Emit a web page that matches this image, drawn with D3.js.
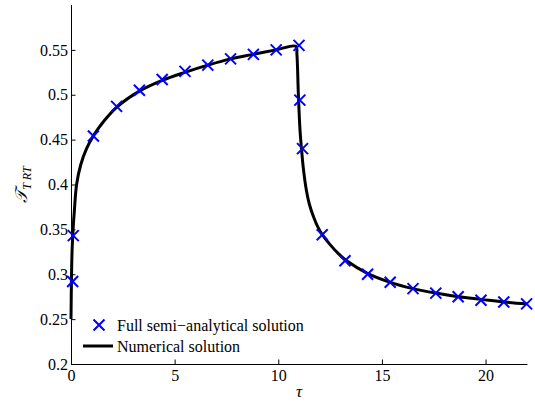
<!DOCTYPE html>
<html>
<head>
<meta charset="utf-8">
<script src="https://cdn.jsdelivr.net/npm/d3@7"></script>
</head>
<body style="margin:0">
<svg id="chart" width="535" height="402"></svg>
<script>
// Semi-analytical solution (sampled markers)
const semiT = [0.08, 0.11, 1.08, 2.2, 3.3, 4.4, 5.5, 6.6, 7.7, 8.8, 9.9, 11.0,
               11.04, 11.17, 12.12, 13.22, 14.31, 15.4, 16.5, 17.6, 18.68, 19.78, 20.88, 21.98];
const semiV = [0.292, 0.343, 0.454, 0.487, 0.505, 0.517, 0.526, 0.533, 0.540, 0.545, 0.550, 0.555,
               0.494, 0.440, 0.344, 0.315, 0.300, 0.291, 0.284, 0.279, 0.275, 0.271, 0.269, 0.267];

// Numerical solution (dense curve)
const numT = [0, 0.02, 0.05, 0.1, 0.16, 0.27, 0.47, 0.75, 1.1, 1.6, 2.2, 3.3, 4.4, 5.5, 6.6, 7.7, 8.8, 9.9, 10.85,
              10.9, 10.97, 11.05, 11.12, 11.2, 11.36, 11.5, 11.7, 11.9, 12.1, 12.5, 12.9, 13.3, 14.3, 15.4, 16.5,
              17.6, 18.7, 19.8, 20.9, 22];
const numV = [0.25, 0.29, 0.325, 0.35, 0.37, 0.40, 0.422, 0.44, 0.455, 0.471, 0.486, 0.504, 0.516, 0.525, 0.533,
              0.540, 0.545, 0.550, 0.554, 0.545, 0.50, 0.46, 0.44, 0.42, 0.393, 0.378, 0.364, 0.353, 0.345, 0.333,
              0.323, 0.315, 0.301, 0.291, 0.284, 0.279, 0.275, 0.272, 0.269, 0.267];

const xTicks = [0, 5, 10, 15, 20];
const yTicks = [0.2, 0.25, 0.3, 0.35, 0.4, 0.45, 0.5, 0.55];

const svg = d3.select("#chart");
const m = { left: 71, right: 527, top: 5, bottom: 364 };

const x = d3.scaleLinear().domain([0, 22]).range([m.left, m.right]);
const y = d3.scaleLinear().domain([0.2, 0.6]).range([m.bottom, m.top]);

// Axes with inward ticks, left and bottom only
const xAxis = d3.axisBottom(x).tickValues(xTicks).tickSizeInner(-4.5).tickSizeOuter(0).tickPadding(6)
  .tickFormat(d3.format("d"));
const yAxis = d3.axisLeft(y).tickValues(yTicks).tickSizeInner(-4.5).tickSizeOuter(0).tickPadding(3)
  .tickFormat(d => String(+d.toFixed(2)));

const gx = svg.append("g").attr("transform", `translate(0,${m.bottom})`).call(xAxis);
const gy = svg.append("g").attr("transform", `translate(${m.left},0)`).call(yAxis);
[gx, gy].forEach(g => {
  g.attr("font-family", null).attr("font-size", null);
  g.selectAll("text")
    .style("font-family", d => "\"Times New Roman\"")
    .style("font-size", "16px")
    .attr("fill", "#000");
  g.selectAll("path, line").attr("stroke", "#000").attr("stroke-width", 1);
});
gy.select(".domain").attr("d", `M0.5,${m.top}V${m.bottom}`);

// Numerical solution line
const line = d3.line().x((d, i) => x(numT[i])).y((d, i) => y(numV[i])).curve(d3.curveCatmullRom);
svg.append("path")
  .attr("d", line(numT))
  .attr("fill", "none")
  .attr("stroke", "#000")
  .attr("stroke-width", 3)
  .attr("stroke-linejoin", "round");

// Cross markers
const r = 5.5;
const cross = `M${-r},${-r}L${r},${r}M${-r},${r}L${r},${-r}`;
svg.append("g").selectAll("path")
  .data(semiT)
  .join("path")
  .attr("transform", (d, i) => `translate(${x(d)},${y(semiV[i])})`)
  .attr("d", cross)
  .attr("stroke", "#0000ff")
  .attr("stroke-width", 2)
  .attr("fill", "none");

// Axis labels
svg.append("text")
  .attr("x", (m.left + m.right) / 2)
  .attr("y", 397)
  .attr("text-anchor", "middle")
  .style("font-family", "\"Times New Roman\"")
  .style("font-size", "17px")
  .style("font-style", "italic")
  .text("τ");

const yl = svg.append("text")
  .attr("transform", `translate(27,${(m.top + m.bottom) / 2}) rotate(-90)`)
  .attr("text-anchor", "middle")
  .style("font-family", "\"Times New Roman\"")
  .style("font-size", "17px")
  .style("font-style", "italic");
yl.append("tspan").text("𝒯");
yl.append("tspan").attr("dy", 4).style("font-size", "12px").text("T RT");

// Legend
const lg = svg.append("g");
lg.append("path")
  .attr("transform", `translate(${99},${325})`)
  .attr("d", cross)
  .attr("stroke", "#0000ff").attr("stroke-width", 2).attr("fill", "none");
lg.append("text").attr("x", 117).attr("y", 331)
  .style("font-family", "\"Times New Roman\"").style("font-size", "16px")
  .text("Full semi\u2212analytical solution");
lg.append("line").attr("x1", 83).attr("x2", 113).attr("y1", 346).attr("y2", 346)
  .attr("stroke", "#000").attr("stroke-width", 3);
lg.append("text").attr("x", 117).attr("y", 352)
  .style("font-family", "\"Times New Roman\"").style("font-size", "16px")
  .text("Numerical solution");
</script>
</body>
</html>
